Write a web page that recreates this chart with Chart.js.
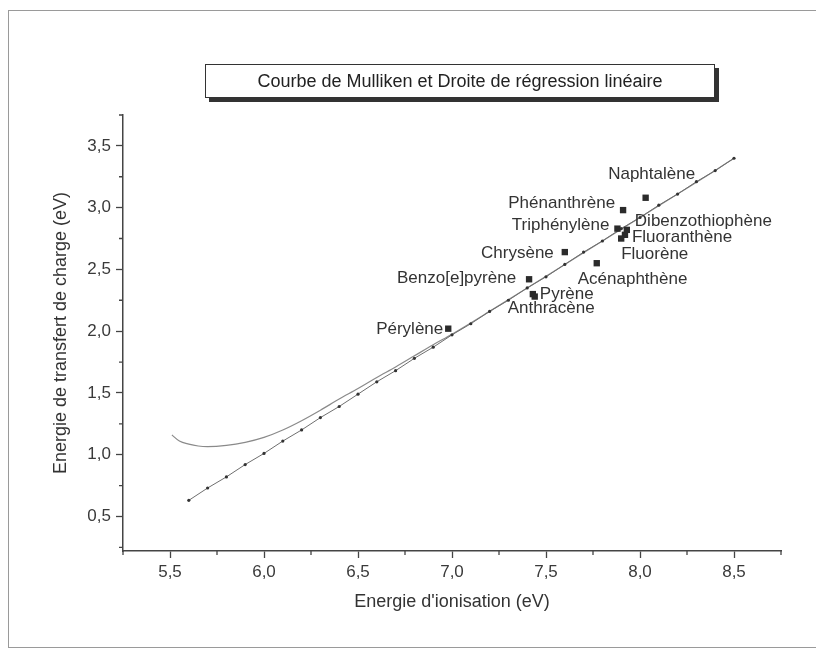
<!DOCTYPE html>
<html>
<head>
<meta charset="utf-8">
<script src="https://cdn.jsdelivr.net/npm/chart.js@4"></script>
<style>
  body { margin: 0; background: #fff; }
  #frame { position: absolute; left: 8px; top: 10px; width: 820px; height: 636px; border: 1px solid #9a9a9a; }
  #titleBox {
    position: absolute; left: 205px; top: 64px; width: 508px; height: 32px;
    border: 1px solid #333; background: #fff; box-shadow: 4px 4px 0 #333;
    font: 18px "Liberation Sans", Arial, sans-serif; color: #222;
    text-align: center; line-height: 32px;
  }
  #plotCanvas { position: absolute; left: 0; top: 0; }
</style>
</head>
<body>
<div id="frame"></div>
<canvas id="plotCanvas" width="816" height="656"></canvas>
<div id="titleBox">Courbe de Mulliken et Droite de régression linéaire</div>
<script>
// composés (carrés)
const compounds = ['Naphtalène', 'Phénanthrène', 'Triphénylène', 'Dibenzothiophène', 'Fluoranthène', 'Fluorène',
                   'Chrysène', 'Acénaphthène', 'Benzo[e]pyrène', 'Pyrène', 'Anthracène', 'Pérylène'];
const ionisation = [8.03, 7.91, 7.88, 7.93, 7.92, 7.90, 7.60, 7.77, 7.41, 7.43, 7.44, 6.98];
const transfert  = [3.08, 2.98, 2.83, 2.82, 2.78, 2.75, 2.64, 2.55, 2.42, 2.30, 2.28, 2.02];

// droite de régression
const regX = [5.6, 5.7, 5.8, 5.9, 6.0, 6.1, 6.2, 6.3, 6.4, 6.5, 6.6, 6.7, 6.8, 6.9, 7.0,
              7.1, 7.2, 7.3, 7.4, 7.5, 7.6, 7.7, 7.8, 7.9, 8.0, 8.1, 8.2, 8.3, 8.4, 8.5];
const regY = [0.63, 0.73, 0.82, 0.92, 1.01, 1.11, 1.20, 1.30, 1.39, 1.49, 1.59, 1.68, 1.78, 1.87, 1.97,
              2.06, 2.16, 2.25, 2.35, 2.44, 2.54, 2.64, 2.73, 2.83, 2.92, 3.02, 3.11, 3.21, 3.30, 3.40];

// courbe de Mulliken
const mullX = [5.51, 5.55, 5.6, 5.65, 5.7, 5.8, 5.9, 6.0, 6.1, 6.2, 6.3, 6.4, 6.5, 6.6, 6.7, 6.8, 6.9, 7.0,
               7.2, 7.4, 7.6, 7.8, 8.0, 8.2, 8.4, 8.5];
const mullY = [1.16, 1.11, 1.085, 1.07, 1.065, 1.075, 1.10, 1.14, 1.20, 1.275, 1.36, 1.45, 1.535, 1.625, 1.71,
               1.80, 1.89, 1.975, 2.16, 2.35, 2.54, 2.73, 2.92, 3.11, 3.30, 3.40];

const xTicks = [5.25, 5.5, 5.75, 6.0, 6.25, 6.5, 6.75, 7.0, 7.25, 7.5, 7.75, 8.0, 8.25, 8.5, 8.75];
const yTicks = [0.25, 0.5, 0.75, 1.0, 1.25, 1.5, 1.75, 2.0, 2.25, 2.5, 2.75, 3.0, 3.25, 3.5, 3.75];

// décalage des étiquettes [dx, dy, align]
const labelPos = [
    [6, -23, 'center'], [-8, -7, 'right'], [-8, -3, 'right'], [8, -9, 'left'],
    [7, 3, 'left'], [0, 16, 'left'], [-11, 1, 'right'], [-19, 16, 'left'],
    [-13, -1, 'right'], [7, 0, 'left'], [-27, 12, 'left'], [-5, 1, 'right']
];

const FONT = '"Liberation Sans", Arial, sans-serif';

const isMajor = v => Math.abs(v * 2 - Math.round(v * 2)) < 1e-6;
const fmt = v => isMajor(v) ? v.toFixed(1).replace('.', ',') : '';

const pointLabels = {
    id: 'pointLabels',
    afterDatasetsDraw(chart) {
        const ctx = chart.ctx;
        const meta = chart.getDatasetMeta(0);
        ctx.save();
        ctx.font = '17px ' + FONT;
        ctx.fillStyle = '#333';
        ctx.textBaseline = 'middle';
        meta.data.forEach((pt, i) => {
            const p = labelPos[i];
            ctx.textAlign = p[2];
            ctx.fillText(compounds[i], pt.x + p[0], pt.y + p[1]);
        });
        ctx.restore();
    }
};

// petites graduations
const minorTicks = {
    id: 'minorTicks',
    afterDraw(chart) {
        const ctx = chart.ctx;
        const xs = chart.scales.x, ys = chart.scales.y;
        ctx.save();
        ctx.strokeStyle = '#444';
        ctx.lineWidth = 1.3;
        ctx.beginPath();
        xTicks.filter(v => !isMajor(v)).forEach(v => {
            const px = xs.getPixelForValue(v);
            ctx.moveTo(px, xs.top); ctx.lineTo(px, xs.top + 4);
        });
        yTicks.filter(v => !isMajor(v)).forEach(v => {
            const py = ys.getPixelForValue(v);
            ctx.moveTo(ys.right, py); ctx.lineTo(ys.right - 4, py);
        });
        ctx.stroke();
        ctx.restore();
    }
};

const tickCol = c => isMajor(c.tick.value) ? '#444' : 'rgba(0,0,0,0)';

const ctx = document.getElementById('plotCanvas');

const chart = new Chart(ctx, {
    type: 'scatter',
    data: {
        datasets: [{
            data: ionisation.map((x, i) => ({x: x, y: transfert[i]})),
            pointStyle: 'rect',
            pointRadius: 4.5,
            backgroundColor: '#2b2b2b',
            borderWidth: 0
        }, {
            data: regX.map((x, i) => ({x: x, y: regY[i]})),
            showLine: true,
            borderColor: '#6e6e6e',
            borderWidth: 1,
            pointRadius: 1.6,
            pointBackgroundColor: '#333',
            pointBorderWidth: 0
        }, {
            data: mullX.map((x, i) => ({x: x, y: mullY[i]})),
            showLine: true,
            borderColor: '#8a8a8a',
            borderWidth: 1.2,
            pointRadius: 0,
            cubicInterpolationMode: 'monotone'
        }]
    },
    options: {
        responsive: false,
        animation: false,
        devicePixelRatio: 1,
        layout: { padding: { left: 10, top: 115, right: 35, bottom: 10 } },
        plugins: { legend: { display: false }, tooltip: { enabled: false } },
        scales: {
            x: {
                type: 'linear',
                min: 5.25, max: 8.75,
                afterBuildTicks: s => { s.ticks = xTicks.map(v => ({value: v})); },
                afterFit: s => { s.height = 95; },
                ticks: { autoSkip: false, maxRotation: 0, padding: 4, color: '#3a3a3a',
                         font: { family: FONT, size: 17 }, callback: v => fmt(v) },
                grid: { drawOnChartArea: false, drawTicks: true, tickLength: 7, tickColor: tickCol, tickWidth: 1.3 },
                border: { color: '#444', width: 1.5 },
                title: { display: true, text: "Energie d'ionisation (eV)", color: '#333',
                         font: { family: FONT, size: 18 }, padding: { bottom: 33 } }
            },
            y: {
                type: 'linear',
                min: 0.22, max: 3.75,
                afterBuildTicks: s => { s.ticks = yTicks.map(v => ({value: v})); },
                afterFit: s => { s.width = 113; },
                ticks: { autoSkip: false, padding: 5, color: '#3a3a3a',
                         font: { family: FONT, size: 17 }, callback: v => fmt(v) },
                grid: { drawOnChartArea: false, drawTicks: true, tickLength: 7, tickColor: tickCol, tickWidth: 1.3 },
                border: { color: '#444', width: 1.5 },
                title: { display: true, text: 'Energie de transfert de charge (eV)', color: '#333',
                         font: { family: FONT, size: 18 }, padding: { top: 40 } }
            }
        }
    },
    plugins: [pointLabels, minorTicks]
});
</script>
</body>
</html>
